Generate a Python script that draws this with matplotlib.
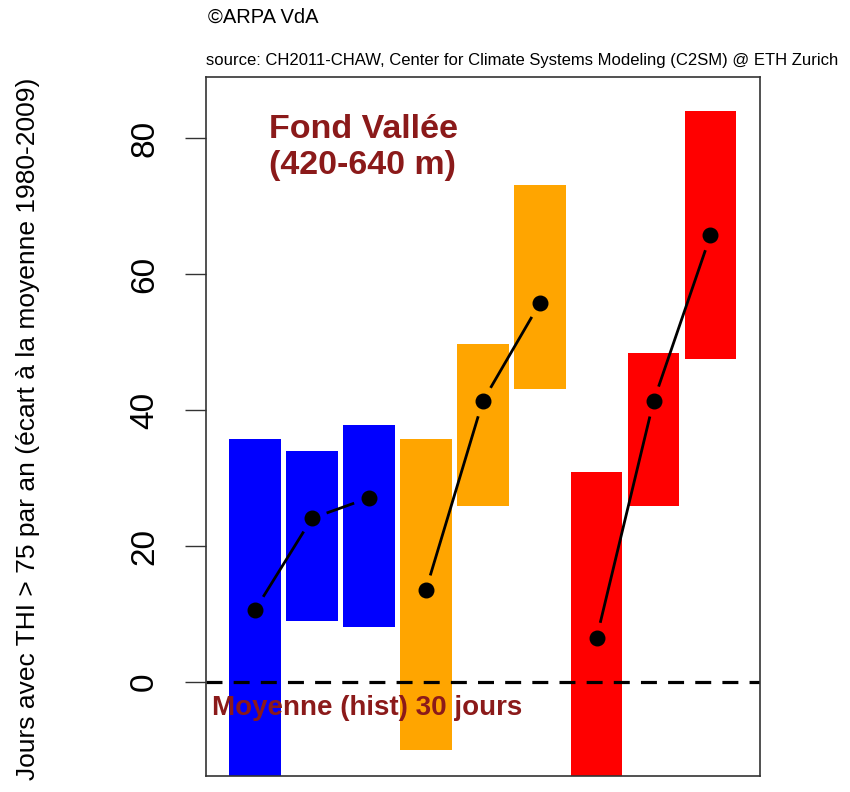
import numpy as np
import matplotlib.pyplot as plt

plt.rcParams['font.family'] = ['Liberation Sans', 'DejaVu Sans']

# 9 bars: 3 scenarios x 3 periods
bar_colors = ["#0000FF", "#0000FF", "#0000FF",
              "#FFA500", "#FFA500", "#FFA500",
              "#FF0000", "#FF0000", "#FF0000"]
# ranges (ecart en jours) and median
lows = [-20, 9.0, 8.1, -10.0, 25.9, 43.1, -20, 25.9, 47.6]
highs = [35.7, 34.0, 37.8, 35.7, 49.7, 73.1, 30.9, 48.4, 84.0]
medians = [10.6, 24.1, 27.1, 13.5, 41.3, 55.7, 6.5, 41.3, 65.7]

hist_mean = 30
title_txt = "Fond Vallée\n(420-640 m)"
ylabel_txt = "Jours avec THI > 75 par an (écart à la moyenne 1980-2009)"

W, H = 850, 792
fig = plt.figure(figsize=(W / 100, H / 100), dpi=100)
ax = fig.add_axes([206 / W, (H - 776) / H, (760 - 206) / W, (776 - 77) / H])

x = np.arange(1, len(medians) + 1)
ax.bar(x, np.array(highs) - np.array(lows), bottom=lows, width=0.91,
       color=bar_colors, linewidth=0, zorder=1)

ax.axhline(0, color="black", lw=2.3, ls=(0, (5, 3.5)), zorder=2)

ax.set_xlim(0.14, 9.87)
ax.set_ylim(-13.8, 89.0)

# R type="b": points joined by segments with gaps near the points
med = np.array(medians)
ax.scatter(x, med, s=110, color="black", zorder=4)
inv = ax.transData.inverted()
for g in range(3):
    for i in range(g * 3, g * 3 + 2):
        p0 = ax.transData.transform((x[i], med[i]))
        p1 = ax.transData.transform((x[i + 1], med[i + 1]))
        d = p1 - p0
        L = np.hypot(*d)
        gap = 17
        if L > 2 * gap:
            a = inv.transform(p0 + d * gap / L)
            b = inv.transform(p1 - d * gap / L)
            ax.plot([a[0], b[0]], [a[1], b[1]], color="black", lw=2, zorder=3)

ax.set_xticks([])
ax.set_yticks([0, 20, 40, 60, 80])
ax.set_yticklabels(["0", "20", "40", "60", "80"], rotation=90, va="center", fontsize=24)
ax.tick_params(axis="y", length=15, width=1, pad=18, color="#333333")
for s in ax.spines.values():
    s.set_color("#333333")
    s.set_linewidth(1.2)

ax.text(0.113, 0.947, title_txt, transform=ax.transAxes, color="#8B1A1A",
        fontsize=24.5, fontweight="bold", va="top", ha="left", linespacing=1.2)
ax.text(0.01, -3.8, "Moyenne (hist) %d jours" % hist_mean,
        transform=ax.get_yaxis_transform(),
        color="#8B1A1A", fontsize=20, fontweight="bold", va="center", ha="left", zorder=5)

fig.text(28 / W, 1 - 429 / H, ylabel_txt, rotation=90, va="center", ha="center", fontsize=19)
fig.text(208 / W, 1 - 17 / H, "©ARPA VdA", fontsize=14.5, va="center", ha="left")
fig.text(206 / W, 1 - 60 / H,
         "source: CH2011-CHAW, Center for Climate Systems Modeling (C2SM) @ ETH Zurich",
         fontsize=12, va="center", ha="left")

fig.savefig("out.png", dpi=100)
